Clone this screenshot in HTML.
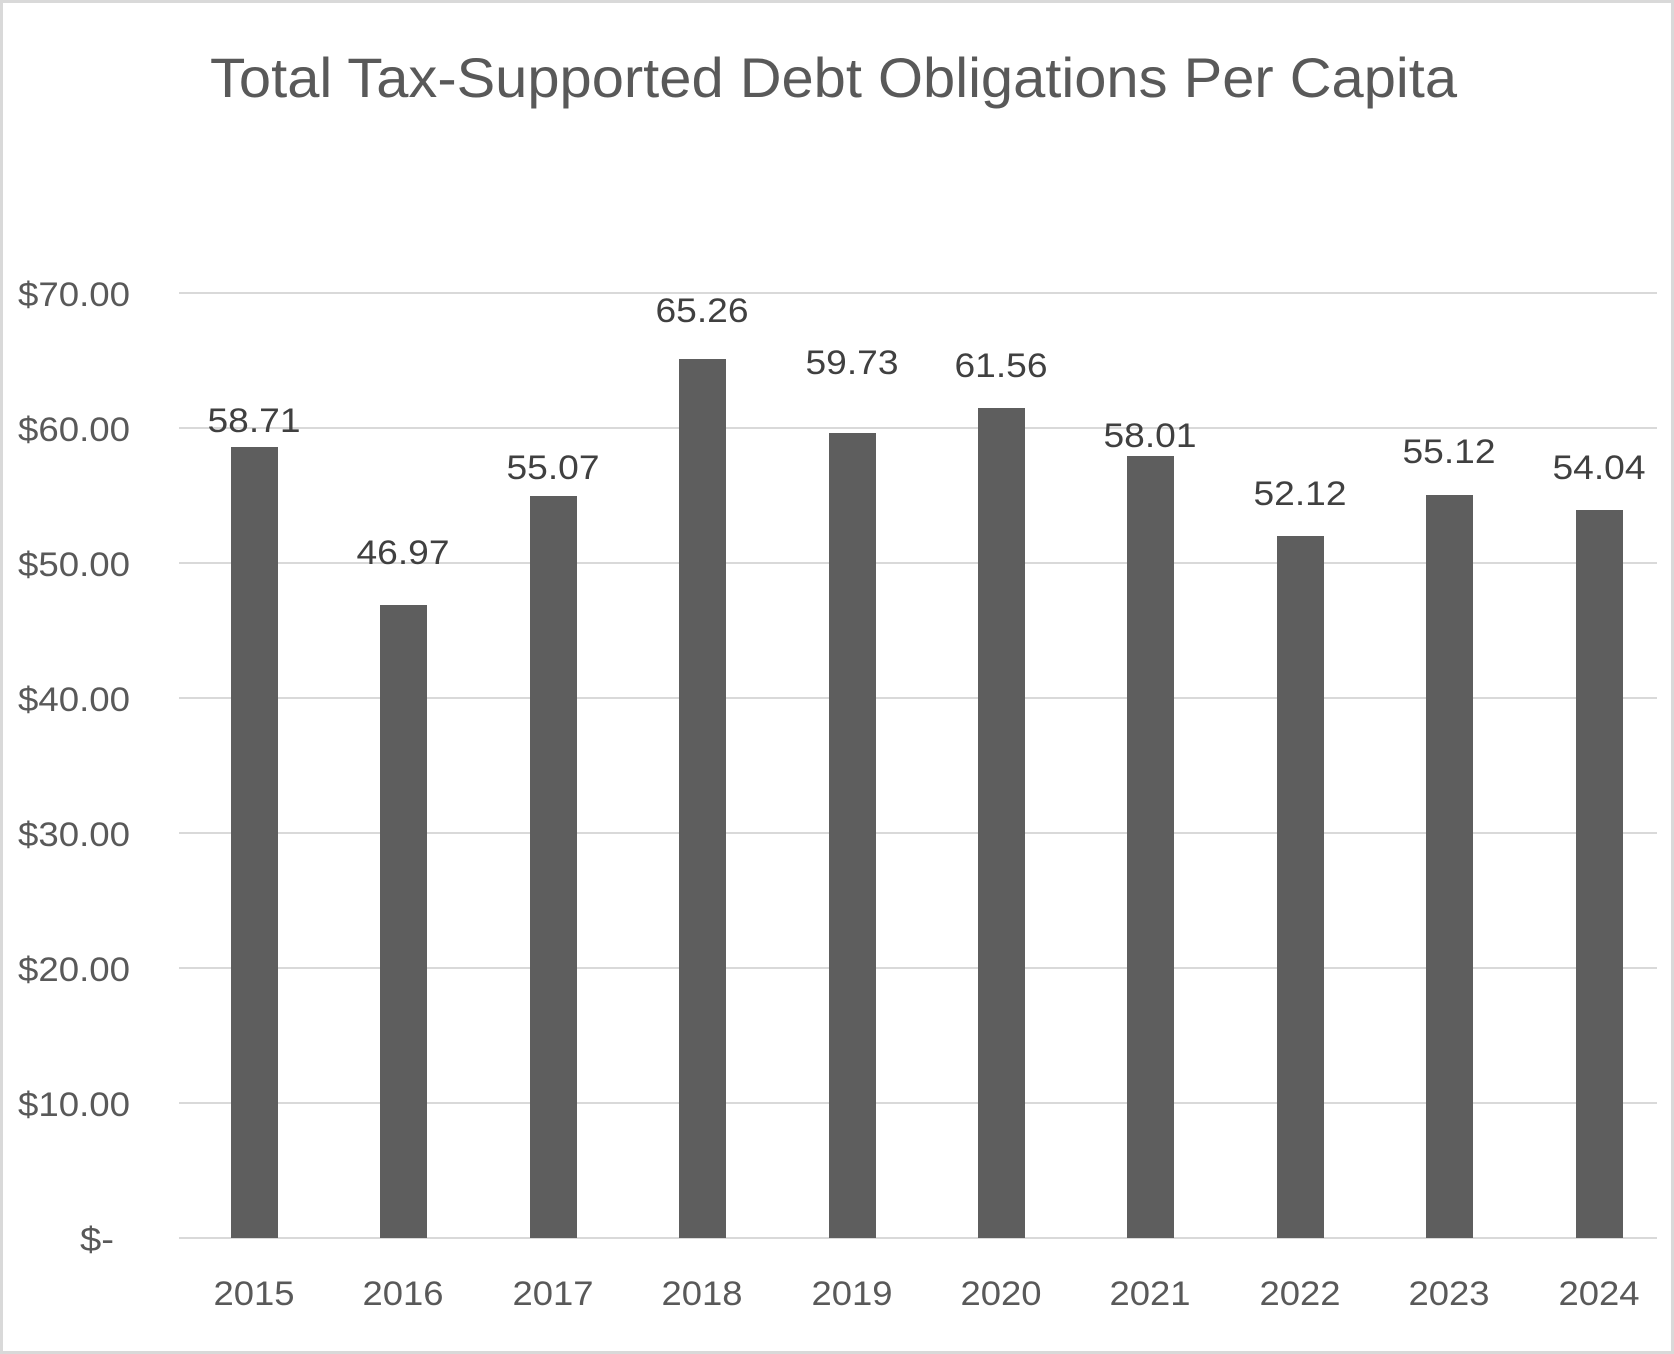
<!DOCTYPE html>
<html><head><style>body{margin:0;background:#fff}svg{display:block}</style></head><body>
<svg width="1674" height="1354" xmlns="http://www.w3.org/2000/svg" font-family="'Liberation Sans',sans-serif" fill="#595959">
<rect x="1.5" y="1.5" width="1671" height="1351" fill="#fff" stroke="#d9d9d9" stroke-width="3"/>
<text x="210" y="97" font-size="56" textLength="1247" lengthAdjust="spacingAndGlyphs">Total Tax-Supported Debt Obligations Per Capita</text>
<g stroke="#d9d9d9" stroke-width="2">
<line x1="179" x2="1657" y1="293" y2="293"/><line x1="179" x2="1657" y1="428" y2="428"/><line x1="179" x2="1657" y1="563" y2="563"/><line x1="179" x2="1657" y1="698" y2="698"/><line x1="179" x2="1657" y1="833" y2="833"/><line x1="179" x2="1657" y1="968" y2="968"/><line x1="179" x2="1657" y1="1103" y2="1103"/><line x1="179" x2="1657" y1="1238" y2="1238"/>
</g>
<g font-size="34" text-anchor="end">
<text x="130" y="306" textLength="112" lengthAdjust="spacingAndGlyphs">$70.00</text><text x="130" y="441" textLength="112" lengthAdjust="spacingAndGlyphs">$60.00</text><text x="130" y="576" textLength="112" lengthAdjust="spacingAndGlyphs">$50.00</text><text x="130" y="711" textLength="112" lengthAdjust="spacingAndGlyphs">$40.00</text><text x="130" y="846" textLength="112" lengthAdjust="spacingAndGlyphs">$30.00</text><text x="130" y="981" textLength="112" lengthAdjust="spacingAndGlyphs">$20.00</text><text x="130" y="1116" textLength="112" lengthAdjust="spacingAndGlyphs">$10.00</text><text x="114" y="1251" textLength="34" lengthAdjust="spacingAndGlyphs">$-</text>
</g>
<g fill="#5e5e5e">
<rect x="231" y="447" width="47" height="791"/>
<rect x="380" y="605" width="47" height="633"/>
<rect x="530" y="496" width="47" height="742"/>
<rect x="679" y="359" width="47" height="879"/>
<rect x="829" y="433" width="47" height="805"/>
<rect x="978" y="408" width="47" height="830"/>
<rect x="1127" y="456" width="47" height="782"/>
<rect x="1277" y="536" width="47" height="702"/>
<rect x="1426" y="495" width="47" height="743"/>
<rect x="1576" y="510" width="47" height="728"/>
</g>
<g font-size="34" text-anchor="middle" fill="#404040">
<text x="254" y="432" textLength="93" lengthAdjust="spacingAndGlyphs">58.71</text><text x="403" y="564" textLength="93" lengthAdjust="spacingAndGlyphs">46.97</text><text x="553" y="479" textLength="93" lengthAdjust="spacingAndGlyphs">55.07</text><text x="702" y="322" textLength="93" lengthAdjust="spacingAndGlyphs">65.26</text><text x="852" y="374" textLength="93" lengthAdjust="spacingAndGlyphs">59.73</text><text x="1001" y="377" textLength="93" lengthAdjust="spacingAndGlyphs">61.56</text><text x="1150" y="447" textLength="93" lengthAdjust="spacingAndGlyphs">58.01</text><text x="1300" y="505" textLength="93" lengthAdjust="spacingAndGlyphs">52.12</text><text x="1449" y="463" textLength="93" lengthAdjust="spacingAndGlyphs">55.12</text><text x="1599" y="479" textLength="93" lengthAdjust="spacingAndGlyphs">54.04</text>
</g>
<g font-size="34" text-anchor="middle">
<text x="254" y="1305" textLength="81" lengthAdjust="spacingAndGlyphs">2015</text><text x="403" y="1305" textLength="81" lengthAdjust="spacingAndGlyphs">2016</text><text x="553" y="1305" textLength="81" lengthAdjust="spacingAndGlyphs">2017</text><text x="702" y="1305" textLength="81" lengthAdjust="spacingAndGlyphs">2018</text><text x="852" y="1305" textLength="81" lengthAdjust="spacingAndGlyphs">2019</text><text x="1001" y="1305" textLength="81" lengthAdjust="spacingAndGlyphs">2020</text><text x="1150" y="1305" textLength="81" lengthAdjust="spacingAndGlyphs">2021</text><text x="1300" y="1305" textLength="81" lengthAdjust="spacingAndGlyphs">2022</text><text x="1449" y="1305" textLength="81" lengthAdjust="spacingAndGlyphs">2023</text><text x="1599" y="1305" textLength="81" lengthAdjust="spacingAndGlyphs">2024</text>
</g>
</svg>
</body></html>
